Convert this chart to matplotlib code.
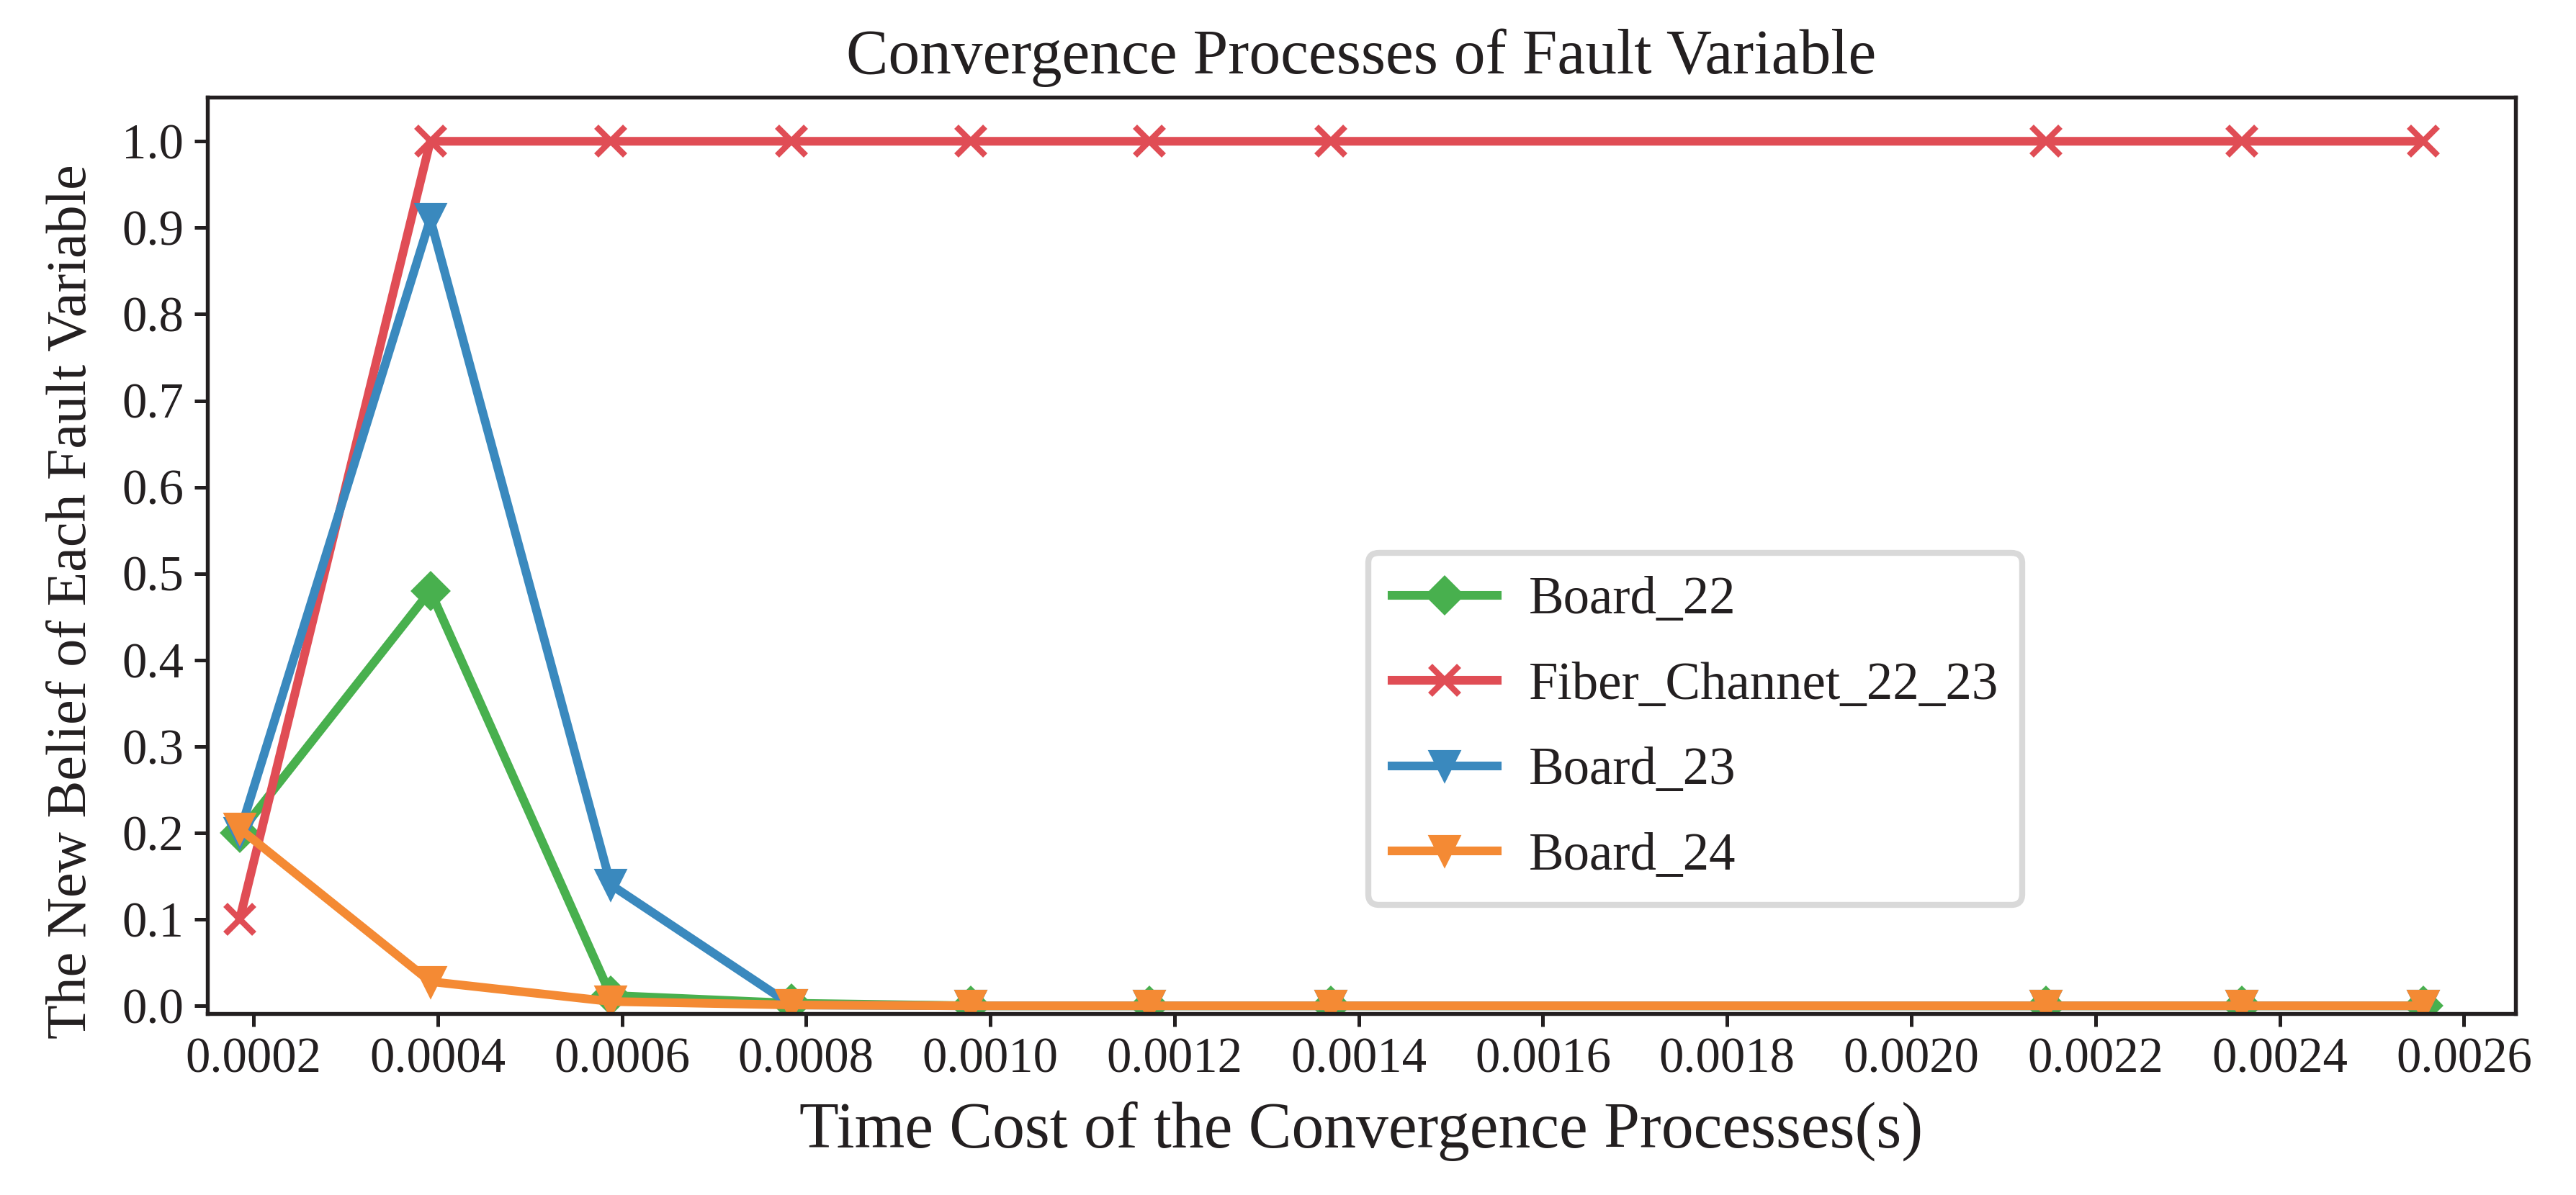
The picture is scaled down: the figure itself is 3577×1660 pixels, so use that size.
import matplotlib
matplotlib.use("Agg")
import matplotlib.pyplot as plt
from matplotlib.ticker import FormatStrFormatter, MultipleLocator

# time cost (s) of each convergence step
t_steps = [0.000185, 0.000392, 0.000588, 0.000784, 0.000979,
           0.001173, 0.001370, 0.002146, 0.002359, 0.002556]

board_22 = [0.200, 0.480, 0.012, 0.003, 0.0, 0.0, 0.0, 0.0, 0.0, 0.0]
fiber_22_23 = [0.100, 1.0, 1.0, 1.0, 1.0, 1.0, 1.0, 1.0, 1.0, 1.0]
board_23 = [0.200, 0.910, 0.140, 0.001, 0.0, 0.0, 0.0, 0.0, 0.0, 0.0]
board_24 = [0.205, 0.028, 0.005, 0.001, 0.0, 0.0, 0.0, 0.0, 0.0, 0.0]

labels = ["Board_22", "Fiber_Channet_22_23", "Board_23", "Board_24"]
colors = ["#48b04e", "#e04d55", "#3a89be", "#f48a34"]

plt.rcParams["font.family"] = ["Liberation Serif", "DejaVu Serif"]

fig = plt.figure(figsize=(3578 / 300, 1660 / 300), dpi=300)
ax = fig.add_axes([288 / 3578, 1 - 1408 / 1660, (3493 - 288) / 3578, (1408 - 135) / 1660])

ax.plot(t_steps, board_22, color=colors[0], lw=2.9, marker="D", ms=8.5,
        label=labels[0])
ax.plot(t_steps, fiber_22_23, color=colors[1], lw=2.9, marker="x", ms=9.5,
        mew=2.0, label=labels[1])
ax.plot(t_steps, board_23, color=colors[2], lw=2.9, marker="v", ms=9.5,
        label=labels[2])
ax.plot(t_steps, board_24, color=colors[3], lw=2.9, marker="v", ms=9.5,
        label=labels[3])

ax.set_xlim(0.00015, 0.002656)
ax.set_ylim(-0.009, 1.051)
ax.xaxis.set_major_locator(MultipleLocator(0.0002))
ax.xaxis.set_major_formatter(FormatStrFormatter("%.4f"))
ax.yaxis.set_major_locator(MultipleLocator(0.1))
ax.yaxis.set_major_formatter(FormatStrFormatter("%.1f"))
ax.tick_params(axis="both", direction="out", length=4.4, width=1.2,
               labelsize=16.5, colors="#231f20")
for s in ax.spines.values():
    s.set_linewidth(1.3)
    s.set_color("#231f20")

ax.set_title("Convergence Processes of Fault Variable", fontsize=21,
             color="#231f20", pad=8)
ax.set_xlabel("Time Cost of the Convergence Processes(s)", fontsize=21.5,
              color="#231f20", labelpad=6)
ax.set_ylabel("The New Belief of Each Fault Variable", fontsize=18.7,
              color="#231f20", labelpad=8)
ax.yaxis.label.set_y(0.45)

leg = ax.legend(loc="lower left", bbox_to_anchor=(0.503, 0.119), fontsize=17.5,
                borderaxespad=0, fancybox=True, framealpha=1,
                edgecolor="#d9d9d9", handlelength=2.0, handletextpad=0.6,
                borderpad=0.45, labelspacing=0.7)
leg.get_frame().set_linewidth(2.0)
for t in leg.get_texts():
    t.set_color("#231f20")

fig.savefig("out.png", dpi=300)
